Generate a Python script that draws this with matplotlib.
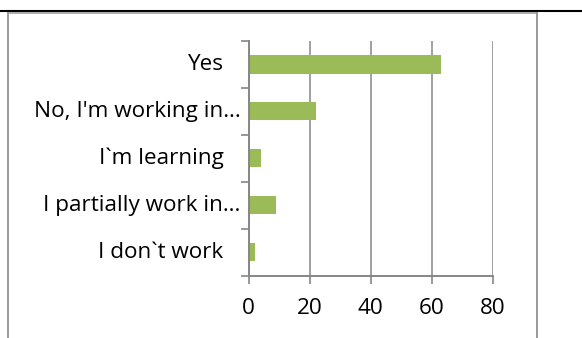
import matplotlib
matplotlib.use("Agg")
import matplotlib.pyplot as plt
from matplotlib.lines import Line2D
from matplotlib.transforms import offset_copy

# Survey answers, listed top to bottom
categories = ["Yes", "No, I'm working in\u2026", "I`m learning",
              "I partially work in\u2026", "I don`t work"]
values = [63, 22, 4, 9, 2]
x_ticks = [0, 20, 40, 60, 80]
x_tick_labels = ["0", "20", "40", "60", "80"]

plt.rcParams["font.family"] = ["Open Sans", "DejaVu Sans"]

W, H = 582, 338
DPI = 100
fig = plt.figure(figsize=(W / DPI, H / DPI), dpi=DPI)
fig.patch.set_facecolor("white")

def px(x, y):
    return x / W, 1 - y / H

# page rule and the cell frame around the chart
x0, y0 = px(0, 11)
x1, _ = px(581, 11)
fig.add_artist(Line2D([x0, x1], [y0, y0], color="black", lw=1.5,
                      transform=fig.transFigure))
lx, ty = px(8, 12.8)
rx, by = px(537, 338)
fig.add_artist(Line2D([lx, rx], [ty, ty], color="#a6a6a6", lw=1.3,
                      transform=fig.transFigure))
fig.add_artist(Line2D([lx, lx], [ty, by], color="#9a9a9a", lw=1.4,
                      transform=fig.transFigure))
fig.add_artist(Line2D([rx, rx], [ty, by], color="#9a9a9a", lw=1.4,
                      transform=fig.transFigure))

left, top = px(248.5, 41)
right, bottom = px(493, 275.5)
ax = fig.add_axes([left, bottom, right - left, top - bottom])

n = len(categories)
ypos = list(range(n - 1, -1, -1))
ax.barh(ypos, values, height=0.39, color="#9bbb59", zorder=3)

ax.set_xlim(0, 80)
ax.set_ylim(-0.5, n - 0.5)

axis_col = "#868686"
for side in ["top", "right"]:
    ax.spines[side].set_visible(False)
for side in ["left", "bottom"]:
    ax.spines[side].set_color(axis_col)
    ax.spines[side].set_linewidth(1.4)
    ax.spines[side].set_zorder(4)

fs = 16.2
ax.set_xticks(x_ticks)
ax.set_xticklabels(x_tick_labels, fontsize=fs)
ax.tick_params(axis="x", length=5.5, width=1.2, color=axis_col,
               pad=11, labelcolor="black")
ax.xaxis.grid(True, color=axis_col, lw=1.1, zorder=1)

# category boundaries carry the tick marks
ax.set_yticks([i - 0.5 for i in range(n + 1)])
ax.set_yticklabels([])
ax.tick_params(axis="y", length=6, width=1.2, color=axis_col)

# category names, right-aligned; the shortened ones run up to the ticks
for y, lab in zip(ypos, categories):
    off = -8 if lab.endswith("\u2026") else -25
    tr = offset_copy(ax.get_yaxis_transform(), fig=fig, x=off, y=0,
                     units="dots")
    ax.text(0, y, lab, transform=tr, ha="right", va="center",
            fontsize=fs, color="black")

fig.savefig("out.png", dpi=DPI, facecolor="white")
